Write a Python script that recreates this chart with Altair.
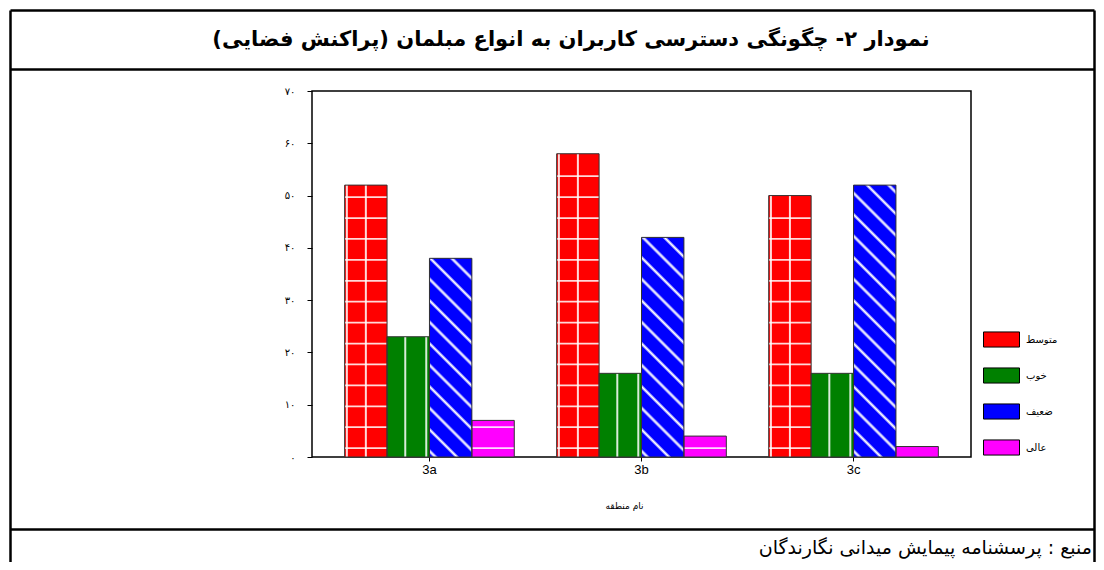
import json
import altair as alt
import pandas as pd

# ---------------- data ----------------
regions = ["3a", "3b", "3c"]
categories = ["متوسط", "خوب", "ضعیف", "عالی"]
colors = ["#ff0000", "#008000", "#0000ff", "#ff00ff"]
val_motavaset = [52, 58, 50]
val_khoob = [23, 16, 16]
val_zaeef = [38, 42, 52]
val_aali = [7, 4, 2]
y_ticks = [0, 10, 20, 30, 40, 50, 60, 70]
y_tick_labels = ["۰", "۱۰", "۲۰", "۳۰", "۴۰", "۵۰", "۶۰", "۷۰"]
title_text = "نمودار ۲- چگونگی دسترسی کاربران به انواع مبلمان (پراکنش فضایی)\u200f"
source_text = "منبع : پرسشنامه پیمایش میدانی نگارندگان\u200f"
x_title = "نام منطقه"

series = dict(zip(categories, [val_motavaset, val_khoob, val_zaeef, val_aali]))
df = pd.DataFrame([{"region": r, "cat": c, "value": series[c][i], "zero": 0}
                   for c in categories for i, r in enumerate(regions)])

# ---------------- geometry ----------------
W, H = 659, 366
YMAX = 70
P_IN, P_OUT = 0.2, 0.154
step = W / (len(regions) - P_IN + 2 * P_OUT)
bw = step * (1 - P_IN) / len(categories)

AR = "DejaVu Sans"

x_axis = alt.Axis(labelAngle=0, labelFont="Liberation Sans", labelFontSize=13,
                  labelColor="black", tickSize=4, tickColor="black", labelPadding=2,
                  domain=False, title=x_title, titleFont=AR, titleFontSize=9,
                  titleFontWeight="normal", titleX=312, titleY=48,
                  titleBaseline="middle", titleAlign="center", titleColor="black")
y_axis = alt.Axis(values=y_ticks, grid=False, tickSize=5, tickColor="black",
                  domain=False, labelFont=AR, labelFontSize=10, labelColor="black",
                  labelPadding=12, title=None,
                  labelExpr=json.dumps(y_tick_labels, ensure_ascii=False) + "[round(datum.value/10)]")

xs = alt.Scale(domain=regions, paddingInner=P_IN, paddingOuter=P_OUT)
xos = alt.Scale(domain=categories, paddingInner=0, paddingOuter=0)
ys = alt.Scale(domain=[0, YMAX], nice=False)


def X():
    return alt.X("region:N", scale=xs, axis=x_axis, title=x_title)


def XO():
    return alt.XOffset("cat:N", scale=xos)


def Y(field):
    return alt.Y(field, scale=ys, axis=y_axis, title=None)


legend = alt.Legend(orient="none", legendX=671, legendY=230, title=None,
                    symbolType="M-1,-0.42H1V0.42H-1Z", symbolSize=1296,
                    symbolStrokeColor="black", symbolStrokeWidth=1, symbolOpacity=1,
                    labelFont=AR, labelFontSize=10, labelColor="black",
                    rowPadding=7, padding=0, labelOffset=6)

bars = alt.Chart(df).mark_bar(opacity=1).encode(
    x=X(), xOffset=XO(), y=Y("value:Q"),
    color=alt.Color("cat:N", scale=alt.Scale(domain=categories, range=colors),
                    legend=legend, sort=categories),
)

# horizontal stripes (texture) for red and magenta bars
stripe_rows = []
for c in ["متوسط", "عالی"]:
    for i, r in enumerate(regions):
        v = series[c][i]
        s = 1.7
        while s < v - 0.6:
            stripe_rows.append({"region": r, "cat": c, "y0": s - 0.17, "y1": s + 0.17})
            s += 4
stripes = alt.Chart(pd.DataFrame(stripe_rows)).mark_bar(color="white", opacity=0.85).encode(
    x=X(), xOffset=XO(), y=Y("y0:Q"), y2="y1:Q",
)

# vertical texture lines (rules at band centre, shifted in pixels)
vlayers = []
for j, c, offs in [(0, "متوسط", [-19, 0]), (1, "خوب", [-3, 18])]:
    sub = df[df["cat"] == c]
    centre = (j - (len(categories) - 1) / 2) * bw
    for o in offs:
        vlayers.append(
            alt.Chart(sub).mark_rule(color="white", opacity=0.85, strokeWidth=2,
                                     xOffset=centre + o).encode(
                x=X(), y=Y("zero:Q"), y2="value:Q",
            )
        )

# diagonal texture for blue bars via gradients
blayers = []
blue, halo = "#0000ff", "#9a9aff"
for i, r in enumerate(regions):
    v = val_zaeef[i]
    h = v / YMAX * H
    T = bw + h
    P = 21.5
    stops = [alt.GradientStop(offset=0, color=blue)]
    c = 6.0
    last = 0
    while c - 3 < T:
        for d, col in [(-3, blue), (-1.5, halo), (0, "white"), (1.5, halo), (3, blue)]:
            o = (c + d) / T
            if last < o < 1:
                stops.append(alt.GradientStop(offset=round(o, 5), color=col))
                last = o
        c += P
    stops.append(alt.GradientStop(offset=1, color=blue))
    k = (bw + h) * bw / (bw ** 2 + h ** 2)
    grad = alt.LinearGradient(gradient="linear", stops=stops, x1=0, y1=1,
                              x2=k, y2=1 - k * h / bw)
    sub = df[(df["cat"] == "ضعیف") & (df["region"] == r)]
    blayers.append(alt.Chart(sub).mark_bar(fill=grad).encode(
        x=X(), xOffset=XO(), y=Y("value:Q")))

outline = alt.Chart(df).mark_bar(fillOpacity=0, stroke="#333333", strokeWidth=1).encode(
    x=X(), xOffset=XO(), y=Y("value:Q"))

# frame (decorative)
one = alt.Data(values=[{"a": 1}])
L, R, T0 = -301.5, 782.5, -80.5
frame = [
    alt.Chart(one).mark_rule(color="black", strokeWidth=2.5).encode(
        x=alt.value(L), y=alt.value(T0), y2=alt.value(480)),
    alt.Chart(one).mark_rule(color="black", strokeWidth=2.5).encode(
        x=alt.value(R), y=alt.value(T0), y2=alt.value(480)),
]
for yy in [T0, -21.5, 438.5]:
    frame.append(alt.Chart(one).mark_rule(color="black", strokeWidth=2.5).encode(
        x=alt.value(L), x2=alt.value(R), y=alt.value(yy)))

title = alt.Chart(one).mark_text(text=title_text, font=AR, fontSize=21, fontWeight="bold",
                                 align="center", baseline="middle", color="black").encode(
    x=alt.value(259), y=alt.value(-51))
source = alt.Chart(one).mark_text(text=source_text, font=AR, fontSize=19,
                                  align="right", baseline="middle", color="black").encode(
    x=alt.value(780), y=alt.value(457))

chart = alt.layer(bars, stripes, *vlayers, *blayers, outline, *frame, title, source).properties(
    width=W, height=H,
    autosize=alt.AutoSizeParams(type="none"),
    padding={"left": 304, "top": 83, "right": 125, "bottom": 105},
).configure(background="white").configure_view(stroke="black", strokeWidth=1.5)

chart.save("out.html", embed_options={"renderer": "svg", "actions": False})
